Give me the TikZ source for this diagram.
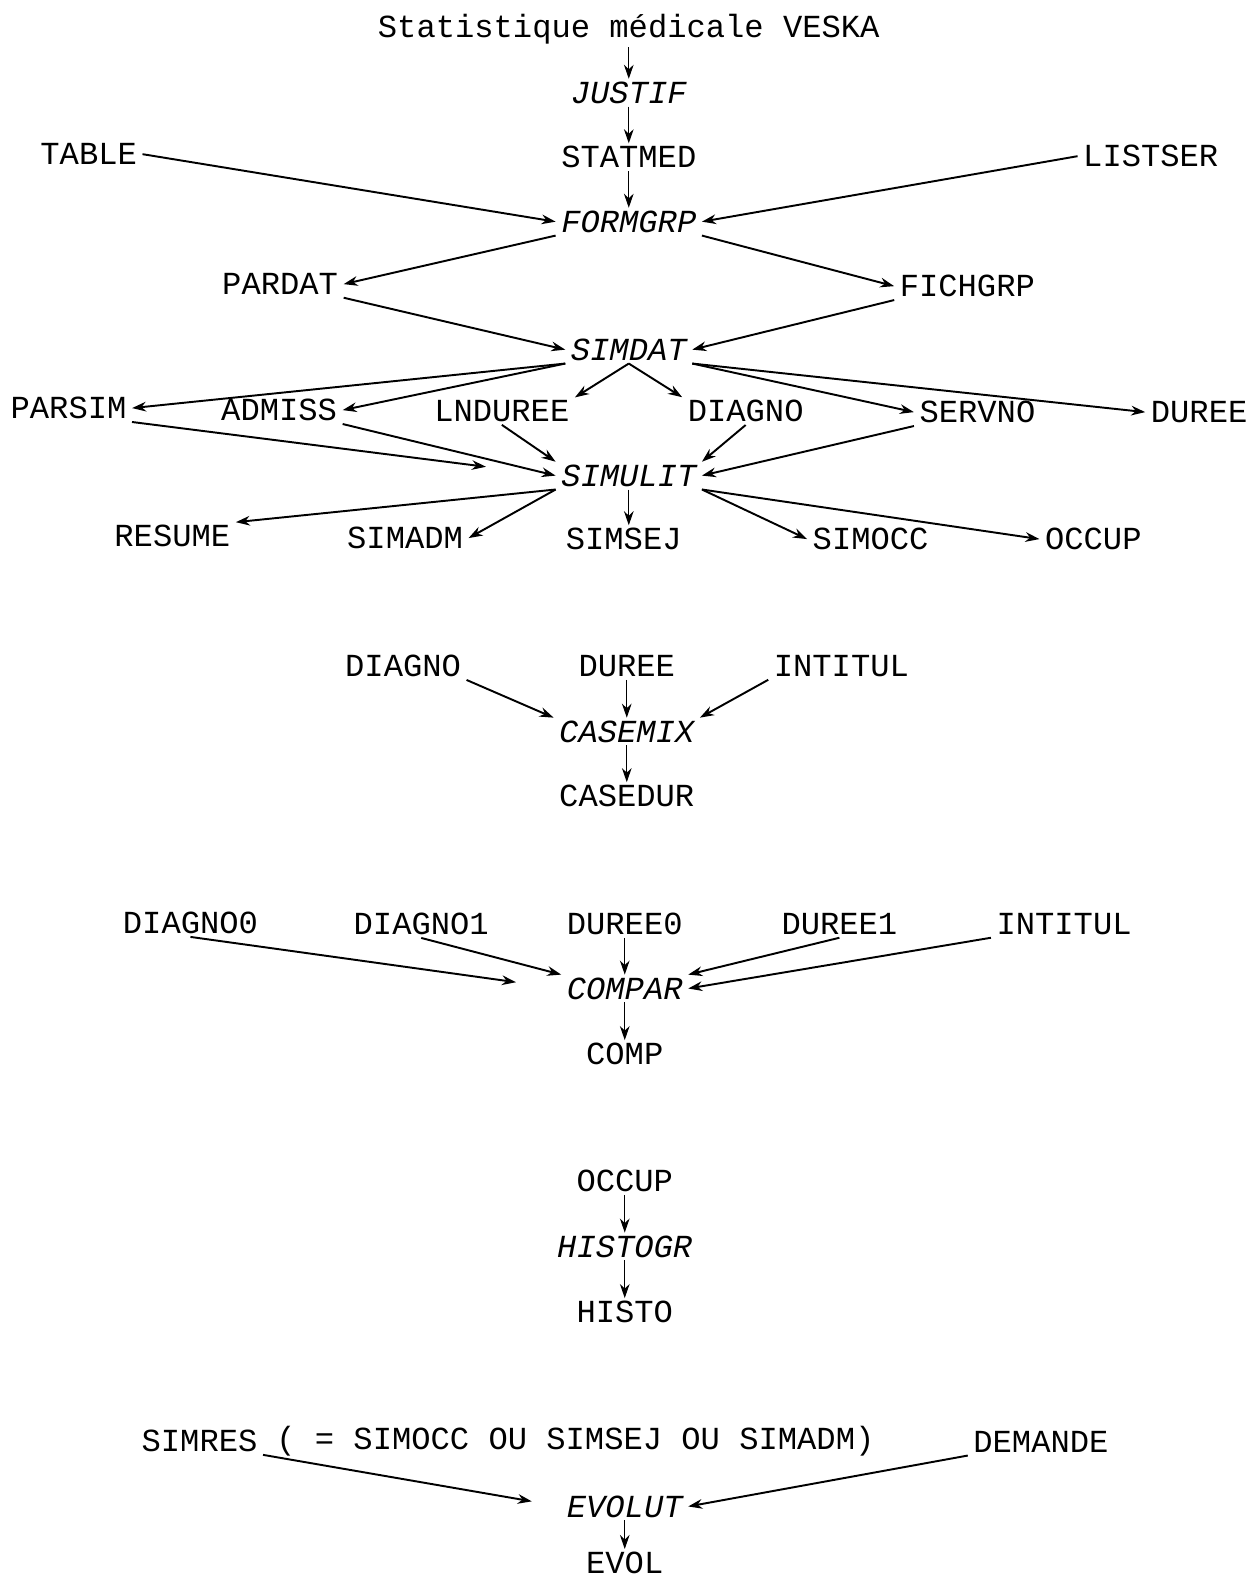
\documentclass[tikz,border=0pt]{standalone}
\usepackage{fontspec}
\setmonofont{Liberation Mono}
\usetikzlibrary{positioning, arrows.meta}

\begin{document}
\begin{tikzpicture}[
        x = 0.02016cm, y = -0.02016cm,
        every node/.style = {
            inner xsep = 3pt,
            inner ysep = 1.5pt,
            font = \fontsize{18.3}{20}\selectfont\ttfamily
        },
        prog/.style = {
            font = \fontsize{18.3}{20}\selectfont\ttfamily\itshape
        },
        flow/.style = {
            -{Stealth[length = 8pt, width = 5.5pt]},
            line width = 1.1pt
        },
        down/.style = {
            flow,
            line width = 0.6pt
        }
    ]
    \useasboundingbox (0,0) rectangle (1241,1568);

    % VESKA -> FORMGRP -> SIMDAT -> SIMULIT
    \node (veska)   at (624, 29)  {Statistique médicale VESKA};
    \node[prog] (justif)  at (624, 92)  {JUSTIF};
    \node (statmed) at (624,156)  {STATMED};
    \node (table)   at (88, 153)  {TABLE};
    \node (listser) at (1142,155) {LISTSER};
    \node[prog] (formgrp) at (624,220)  {FORMGRP};
    \node (pardat)  at (278,282)  {PARDAT};
    \node (fichgrp) at (960,284)  {FICHGRP};
    \node[prog] (simdat)  at (624,347)  {SIMDAT};
    \node (parsim)  at (68, 405)  {PARSIM};
    \node (admiss)  at (277,407)  {ADMISS};
    \node (lnduree) at (498,408)  {LNDUREE};
    \node (diagno)  at (740,408)  {DIAGNO};
    \node (servno)  at (970,409)  {SERVNO};
    \node (duree)   at (1190,409) {DUREE};
    \node[prog] (simulit) at (624,472)  {SIMULIT};
    \node (resume)  at (171,532)  {RESUME};
    \node (simadm)  at (402,534)  {SIMADM};
    \node (simsej)  at (619,535)  {SIMSEJ};
    \node (simocc)  at (864,535)  {SIMOCC};
    \node (occup)   at (1085,535) {OCCUP};

    \draw[down] (veska) -- (justif);
    \draw[down] (justif) -- (statmed);
    \draw[down] (statmed) -- (formgrp);
    \draw[flow] (table.east) -- (formgrp.west);
    \draw[flow] (listser.west) -- (formgrp.east);
    \draw[flow] (formgrp.south west) -- (pardat.east);
    \draw[flow] (formgrp.south east) -- (fichgrp.west);
    \draw[flow] (pardat.south east) -- (simdat.west);
    \draw[flow] (fichgrp.south west) -- (simdat.east);
    \draw[flow] (simdat.south west) -- (parsim.east);
    \draw[flow] (simdat.south west) -- (admiss.east);
    \draw[flow] (simdat.south) -- (lnduree.north east);
    \draw[flow] (simdat.south) -- (diagno.north west);
    \draw[flow] (simdat.south east) -- (servno.west);
    \draw[flow] (simdat.south east) -- (duree.west);
    \draw[flow, shorten > = 40pt] (parsim.south east) -- (simulit.west);
    \draw[flow] (admiss.south east) -- (simulit.west);
    \draw[flow] (lnduree.south) -- (simulit.north west);
    \draw[flow] (diagno.south) -- (simulit.north east);
    \draw[flow] (servno.south west) -- (simulit.east);
    \draw[flow] (simulit.south west) -- (resume.north east);
    \draw[flow] (simulit.south west) -- (simadm.east);
    \draw[down] (simulit) -- (simulit |- simsej.north);
    \draw[flow] (simulit.south east) -- (simocc.west);
    \draw[flow] (simulit.south east) -- (occup.west);

    % CASEMIX
    \node (diagnoc)  at (400,661) {DIAGNO};
    \node (dureec)   at (622,661) {DUREE};
    \node (intitulc) at (835,661) {INTITUL};
    \node[prog] (casemix) at (622,726) {CASEMIX};
    \node (casedur)  at (622,790) {CASEDUR};

    \draw[flow] (diagnoc.south east) -- (casemix.north west);
    \draw[down] (dureec) -- (casemix);
    \draw[flow] (intitulc.south west) -- (casemix.north east);
    \draw[down] (casemix) -- (casedur);

    % COMPAR
    \node (diagnoz)  at (189,916)  {DIAGNO0};
    \node (diagnoa)  at (418,917)  {DIAGNO1};
    \node (dureez)   at (620,917)  {DUREE0};
    \node (dureea)   at (833,917)  {DUREE1};
    \node (intitulp) at (1056,917) {INTITUL};
    \node[prog] (compar) at (620,981) {COMPAR};
    \node (comp)     at (620,1046) {COMP};

    \draw[flow, shorten > = 26pt] (diagnoz.south) -- (compar.west);
    \draw[flow] (diagnoa.south) -- (compar.north west);
    \draw[down] (dureez) -- (compar);
    \draw[flow] (dureea.south) -- (compar.north east);
    \draw[flow] (intitulp.south west) -- (compar.east);
    \draw[down] (compar) -- (comp);

    % HISTOGR
    \node (occuph)  at (620,1172) {OCCUP};
    \node[prog] (histogr) at (620,1237) {HISTOGR};
    \node (histo)   at (620,1302) {HISTO};

    \draw[down] (occuph) -- (histogr);
    \draw[down] (histogr) -- (histo);

    % EVOLUT
    \node (simres)  at (198,1430) {SIMRES};
    \node (simresnote) at (571,1430) {( = SIMOCC OU SIMSEJ OU SIMADM)};
    \node (demande) at (1033,1431) {DEMANDE};
    \node[prog] (evolut) at (620,1495) {EVOLUT};
    \node (evol)    at (620,1551) {EVOL};

    \draw[flow, shorten > = 17pt] (simres.south east) -- (evolut.west);
    \draw[flow] (demande.south west) -- (evolut.east);
    \draw[down] (evolut) -- (evol);
\end{tikzpicture}
\end{document}
